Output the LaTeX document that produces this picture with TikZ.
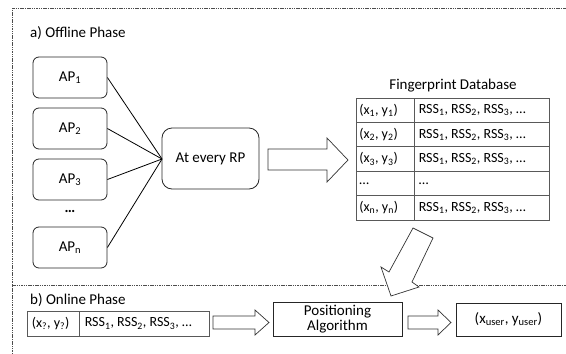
\documentclass[tikz,border=0pt]{standalone}
\usepackage{fontspec}
\setmainfont{Carlito}
\begin{document}
\begin{tikzpicture}[x=1pt,y=-1pt,
  frame/.style={draw=black!70,line width=0.7pt,dash pattern=on 1.5pt off 0.8pt},
  apbox/.style={draw=black!85,line width=0.8pt,rounded corners=6pt,minimum width=74pt,minimum height=41pt,font=\fontsize{15}{17}\selectfont},
  rpbox/.style={draw=black!85,line width=0.8pt,rounded corners=10pt,minimum width=97pt,minimum height=61pt,font=\fontsize{15}{17}\selectfont},
  cell/.style={draw=black!65,line width=0.8pt,minimum height=24.4pt,inner sep=0pt},
  celltext/.style={anchor=west,font=\fontsize{14}{16}\selectfont,inner sep=0pt},
  sqbox/.style={draw=black!85,line width=0.8pt,minimum height=33pt,align=center,font=\fontsize{15}{17}\selectfont},
  fat/.style={draw=black!80,line width=0.7pt,fill=white,line join=miter},
  lbl/.style={anchor=west,font=\fontsize{15}{17}\selectfont,inner sep=0pt},
  link/.style={draw=black,line width=0.8pt}
]
\useasboundingbox (0,0) rectangle (566,354);
% frames
\draw[frame] (12,354) -- (12,8) -- (566,8);
\draw[frame] (12,285) -- (566,285);
\node[lbl] (offl) at (30,33) {a) Offline Phase};
% APs
\node[apbox] (ap1) at (70,77.5) {AP\textsubscript{1}};
\node[apbox] (ap2) at (70,128.5) {AP\textsubscript{2}};
\node[apbox] (ap3) at (70,179.5) {AP\textsubscript{3}};
\node[font=\fontsize{15}{17}\selectfont\bfseries] (dots) at (70,211) {\ldots};
\node[apbox] (apn) at (70,247.5) {AP\textsubscript{n}};
\node[rpbox] (rp) at (210.5,158.5) {At every RP};
\coordinate (rpin) at (162,159);
\foreach \a in {ap1,ap2,ap3,apn} \draw[link] (\a.east) -- (rpin);
% big arrow
\draw[fat] (268,149) -- (327,149) -- (327,138) -- (348,160) -- (327,182) -- (327,170) -- (268,170) -- cycle;
% table
\node[font=\fontsize{15}{17}\selectfont] (fdbt) at (453,86) {Fingerprint Database};
\foreach \i/\l/\r in {0/{(x\textsubscript{1}, y\textsubscript{1})}/{RSS\textsubscript{1}, RSS\textsubscript{2}, RSS\textsubscript{3}, \ldots},
                      1/{(x\textsubscript{2}, y\textsubscript{2})}/{RSS\textsubscript{1}, RSS\textsubscript{2}, RSS\textsubscript{3}, \ldots},
                      2/{(x\textsubscript{3}, y\textsubscript{3})}/{RSS\textsubscript{1}, RSS\textsubscript{2}, RSS\textsubscript{3}, \ldots},
                      3/{\ldots}/{\ldots},
                      4/{(x\textsubscript{n}, y\textsubscript{n})}/{RSS\textsubscript{1}, RSS\textsubscript{2}, RSS\textsubscript{3}, \ldots}} {
  \node[cell,minimum width=58pt] (l\i) at (385,110.2+24.4*\i) {};
  \node[cell,minimum width=135pt] (r\i) at (481.5,110.2+24.4*\i) {};
  \node[celltext] (lt\i) at ([xshift=3.5pt]l\i.west) {\l};
  \node[celltext] (rt\i) at ([xshift=5pt]r\i.west) {\r};
}
% diagonal arrow
\draw[fat] (413,228) -- (433,238) -- (412,282) -- (419,287) -- (391,296) -- (381,267) -- (389,272) -- cycle;
% online
\node[lbl] (onl) at (30,300) {b) Online Phase};
\node[cell,minimum width=52pt,minimum height=25pt] (ql) at (53,323.5) {};
\node[cell,minimum width=130pt,minimum height=25pt] (qr) at (144,323.5) {};
\node[celltext] (qlt) at ([xshift=5pt]ql.west) {(x\textsubscript{?}, y\textsubscript{?})};
\node[celltext] (qrt) at ([xshift=6pt]qr.west) {RSS\textsubscript{1}, RSS\textsubscript{2}, RSS\textsubscript{3}, \ldots};
\draw[fat] (213,316) -- (255,316) -- (255,310) -- (269,322.5) -- (255,335) -- (255,329) -- (213,329) -- cycle;
\node[sqbox,minimum width=129pt] (pos) at (337.5,319.5) {Positioning\\[-2pt]Algorithm};
\draw[fat] (408,316) -- (438,316) -- (438,310) -- (451,322.5) -- (438,335) -- (438,329) -- (408,329) -- cycle;
\node[sqbox,minimum width=105pt] (res) at (508.5,319.5) {(x\textsubscript{user}, y\textsubscript{user})};
\end{tikzpicture}
\end{document}
